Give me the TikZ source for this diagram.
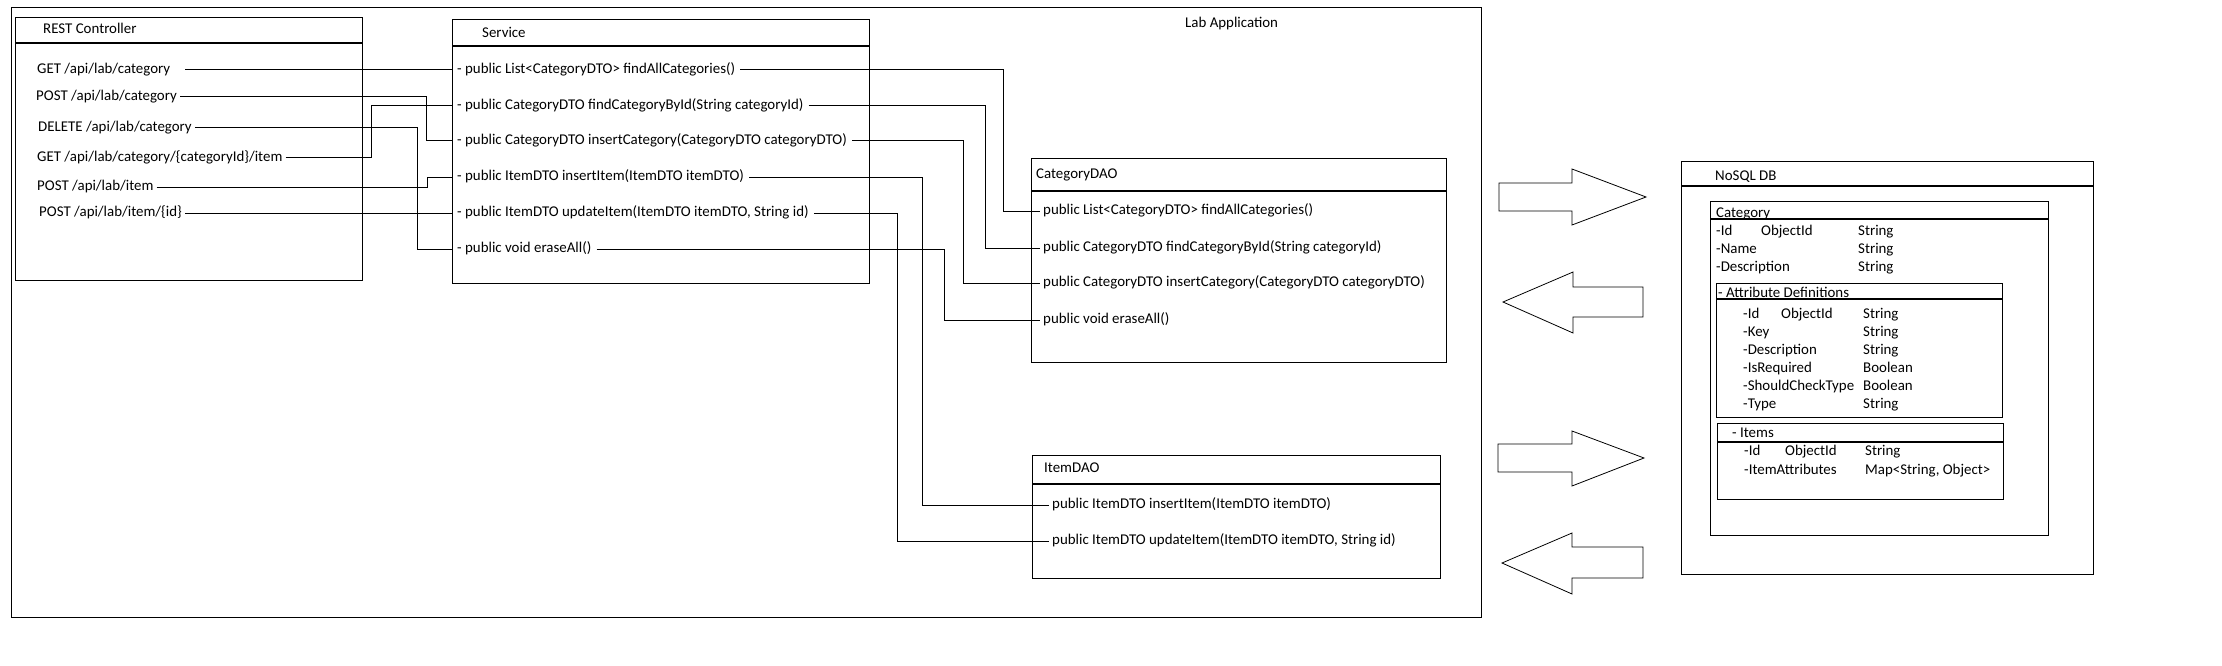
\documentclass[tikz,border=0pt]{standalone}
\usepackage{fontspec}
\setmainfont{Carlito}
\usepackage{tikz}

% one field row: first column, second column, type
\newcommand{\fieldrow}[5]{\makebox[#1][l]{#3}\makebox[#2][l]{#4}#5}

\tikzset{
    frame/.style={draw=black, line width=1.2pt},
    box/.style={frame, shape=rectangle, anchor=north west, inner sep=0pt},
    txt/.style={anchor=west, inner xsep=3pt, inner ysep=0pt, text height=10pt, text depth=3pt,
                font=\fontsize{14.9}{18}\selectfont},
    wire/.style={draw=black, line width=1pt},
    blockarrow/.style={draw=black, line width=0.8pt, fill=white},
}

\begin{document}
\begin{tikzpicture}[x=1pt, y=-1pt]
    \useasboundingbox (0,0) rectangle (2222,666);

    % boxes
    \node[box, minimum width=1470pt, minimum height=610pt] (lab) at (11,7) {};
    \node[box, minimum width=347pt, minimum height=263pt] (rest) at (15,17) {};
    \node[box, minimum width=417pt, minimum height=264pt] (svc) at (452,19) {};
    \node[box, minimum width=415pt, minimum height=204pt] (cdao) at (1031,158) {};
    \node[box, minimum width=408pt, minimum height=123pt] (idao) at (1032,455) {};
    \node[box, minimum width=412pt, minimum height=413pt] (nosql) at (1681,161) {};
    \node[box, minimum width=338pt, minimum height=334pt] (catbox) at (1710,201) {};
    \node[box, minimum width=286pt, minimum height=134pt] (attrbox) at (1716,283) {};
    \node[box, minimum width=286pt, minimum height=76pt] (itembox) at (1717,423) {};

    \draw[frame] (rest.west |- 0,43) -- (rest.east |- 0,43);
    \draw[frame] (svc.west |- 0,46) -- (svc.east |- 0,46);
    \draw[frame] (cdao.west |- 0,191) -- (cdao.east |- 0,191);
    \draw[frame] (idao.west |- 0,484) -- (idao.east |- 0,484);
    \draw[frame] (nosql.west |- 0,186) -- (nosql.east |- 0,186);
    \draw[frame] (catbox.west |- 0,219) -- (catbox.east |- 0,219);
    \draw[frame] (attrbox.west |- 0,299) -- (attrbox.east |- 0,299);
    \draw[frame] (itembox.west |- 0,442) -- (itembox.east |- 0,442);

    % titles
    \node[txt] (labtitle) at (1182,24) {Lab Application};
    \node[txt] (resttitle) at (40,30) {REST Controller};
    \node[txt] (svctitle) at (479,34) {Service};
    \node[txt] (cdaotitle) at (1033,175) {CategoryDAO};
    \node[txt] (idaotitle) at (1041,469) {ItemDAO};
    \node[txt] (nosqltitle) at (1712,177) {NoSQL DB};
    \node[txt] (cattitle) at (1713,214) {Category};
    \node[txt] (attrtitle) at (1715,294) {- Attribute Definitions};
    \node[txt] (itemtitle) at (1729,434) {- Items};

    % REST endpoints
    \node[txt] (ep1) at (34,70) {GET /api/lab/category};
    \node[txt] (ep2) at (33,97) {POST /api/lab/category};
    \node[txt] (ep3) at (35,128) {DELETE /api/lab/category};
    \node[txt] (ep4) at (34,158) {GET /api/lab/category/\{categoryId\}/item};
    \node[txt] (ep5) at (34,187) {POST /api/lab/item};
    \node[txt] (ep6) at (36,213) {POST /api/lab/item/\{id\}};

    % service methods
    \node[txt, inner xsep=5pt] (sm1) at (452,70) {- public List<CategoryDTO> findAllCategories()};
    \node[txt, inner xsep=5pt] (sm2) at (452,106) {- public CategoryDTO findCategoryById(String categoryId)};
    \node[txt, inner xsep=5pt] (sm3) at (452,141) {- public CategoryDTO insertCategory(CategoryDTO categoryDTO)};
    \node[txt, inner xsep=5pt] (sm4) at (452,177) {- public ItemDTO insertItem(ItemDTO itemDTO)};
    \node[txt, inner xsep=5pt] (sm5) at (452,213) {- public ItemDTO updateItem(ItemDTO itemDTO, String id)};
    \node[txt, inner xsep=5pt] (sm6) at (452,249) {- public void eraseAll()};

    % DAO methods
    \node[txt] (cd1) at (1040,211) {public List<CategoryDTO> findAllCategories()};
    \node[txt] (cd2) at (1040,248) {public CategoryDTO findCategoryById(String categoryId)};
    \node[txt] (cd3) at (1040,283) {public CategoryDTO insertCategory(CategoryDTO categoryDTO)};
    \node[txt] (cd4) at (1040,320) {public void eraseAll()};
    \node[txt] (id1) at (1049,505) {public ItemDTO insertItem(ItemDTO itemDTO)};
    \node[txt] (id2) at (1049,541) {public ItemDTO updateItem(ItemDTO itemDTO, String id)};

    % documents
    \node[txt] (cat1) at (1713,232) {\fieldrow{45pt}{97pt}{-Id}{ObjectId}{String}};
    \node[txt] (cat2) at (1713,250) {\fieldrow{45pt}{97pt}{-Name}{}{String}};
    \node[txt] (cat3) at (1713,268) {\fieldrow{45pt}{97pt}{-Description}{}{String}};

    \node[txt] (attr1) at (1740,315) {\fieldrow{38pt}{82pt}{-Id}{ObjectId}{String}};
    \node[txt] (attr2) at (1740,333) {\fieldrow{38pt}{82pt}{-Key}{}{String}};
    \node[txt] (attr3) at (1740,351) {\fieldrow{38pt}{82pt}{-Description}{}{String}};
    \node[txt] (attr4) at (1740,369) {\fieldrow{38pt}{82pt}{-IsRequired}{}{Boolean}};
    \node[txt] (attr5) at (1740,387) {\fieldrow{38pt}{82pt}{-ShouldCheckType}{}{Boolean}};
    \node[txt] (attr6) at (1740,405) {\fieldrow{38pt}{82pt}{-Type}{}{String}};

    \node[txt] (item1) at (1741,452) {\fieldrow{41pt}{80pt}{-Id}{ObjectId}{String}};
    \node[txt] (item2) at (1741,471) {\fieldrow{41pt}{80pt}{-ItemAttributes}{}{Map<String, Object>}};

    % controller -> service
    \draw[wire] ([xshift=12pt]ep1.east) -- (sm1.west);
    \draw[wire] (ep2.east) -- (ep2.east -| 426,0) |- (sm3.west);
    \draw[wire] (ep3.east) -- (ep3.east -| 417,0) |- (sm6.west);
    \draw[wire] (ep4.east) -- (ep4.east -| 371,0) |- (sm2.west);
    \draw[wire] (ep5.east) -- (ep5.east -| 427,0) |- (sm4.west);
    \draw[wire] (ep6.east) -- (sm5.west);

    % service -> DAOs
    \draw[wire] (sm1.east) -- (sm1.east -| 1003,0) |- (cd1.west);
    \draw[wire] (sm2.east) -- (sm2.east -| 985,0) |- (cd2.west);
    \draw[wire] (sm3.east) -- (sm3.east -| 963,0) |- (cd3.west);
    \draw[wire] (sm6.east) -- (sm6.east -| 944,0) |- (cd4.west);
    \draw[wire] (sm4.east) -- (sm4.east -| 922,0) |- (id1.west);
    \draw[wire] (sm5.east) -- (sm5.east -| 897,0) |- (id2.west);

    % big arrows between application and db
    \draw[blockarrow] (1499,183) -- (1572,183) -- (1572,169) -- (1646,197) -- (1572,225) -- (1572,211) -- (1499,211) -- cycle;
    \draw[blockarrow] (1503,302) -- (1573,272) -- (1573,287) -- (1643,287) -- (1643,317) -- (1573,317) -- (1573,333) -- cycle;
    \draw[blockarrow] (1498,444) -- (1572,444) -- (1572,431) -- (1644,458) -- (1572,486) -- (1572,472) -- (1498,472) -- cycle;
    \draw[blockarrow] (1502,563) -- (1572,533) -- (1572,547) -- (1643,547) -- (1643,578) -- (1572,578) -- (1572,594) -- cycle;
\end{tikzpicture}
\end{document}
